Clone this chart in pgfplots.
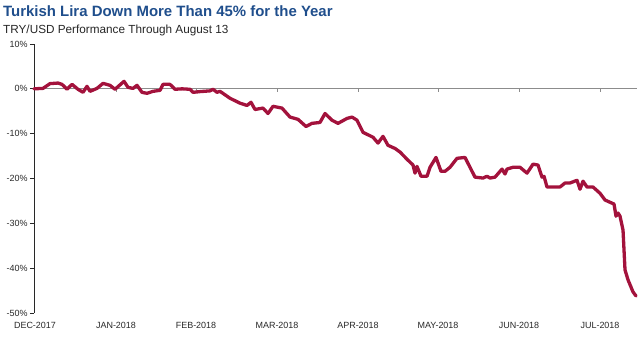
\documentclass[border=0pt]{standalone}
\usepackage{fontspec}
\setmainfont{Liberation Sans}
\usepackage{pgfplots}
\pgfplotsset{compat=1.18}
\definecolor{lira}{RGB}{163,18,60}
\definecolor{ttl}{RGB}{31,78,140}
\definecolor{zeroc}{RGB}{140,140,140}
\definecolor{axc}{RGB}{40,40,40}
\begin{document}
\begin{tikzpicture}[x=1bp,y=1bp]
\useasboundingbox (0,0) rectangle (640,360);
\node[anchor=base west, font=\bfseries\fontsize{15}{16}\selectfont, text=ttl, inner sep=0] at (3,344) {Turkish Lira Down More Than 45\% for the Year};
\node[anchor=base west, font=\fontsize{11.8}{13}\selectfont, text=black!85, inner sep=0] at (3,327) {TRY/USD Performance Through August 13};
\begin{axis}[
  at={(34bp,47bp)}, anchor=south west, scale only axis,
  width=604bp, height=269bp,
  xmin=34, xmax=638, ymin=-50, ymax=10,
  clip=false,
  axis y line*=left, axis x line*=bottom,
  x axis line style={draw=none},
  y axis line style={draw=axc, line width=0.9bp},
  xtick={35,116,196,277,358,438,519,600},
  xticklabels={DEC-2017,JAN-2018,FEB-2018,MAR-2018,APR-2018,MAY-2018,JUN-2018,JUL-2018},
  x tick style={draw=none},
  ytick={-50,-40,-30,-20,-10,0,10},
  yticklabels={-50\%,-40\%,-30\%,-20\%,-10\%,0\%,10\%},
  y tick style={draw=axc, line width=0.9bp},
  tick align=outside, major tick length=4bp,
  ticklabel style={font=\fontsize{9}{10}\selectfont, text=axc},
  xticklabel style={yshift=-2bp},
  yticklabel style={xshift=1bp},
]
\addplot[draw=zeroc, line width=1.3bp] coordinates {(34,0) (637,0)};
\pgfplotsinvokeforeach{116,196,277,358,438,519,600}{
  \draw[zeroc, line width=0.8bp] (axis cs:#1,0) -- ([yshift=-3bp]axis cs:#1,0);
}
\addplot[draw=lira, line width=3.3bp, line join=round, line cap=round] table {
x y
34 0
43 0.1
50 1.16
58 1.29
62 1.0
67 -0.1
72 1.0
78 -0.1
83 -0.78
87 0.56
90 -0.56
97 0.1
103 1.22
110 0.78
115 -0.1
124 1.67
128 0.33
133 0.1
137 0.78
142 -0.78
147 -1.0
153 -0.56
160 -0.33
163 1.0
170 1.0
175 -0.1
182 0
190 -0.1
193 -0.78
200 -0.62
210 -0.45
213 -0.1
217 -0.78
220 -0.56
230 -2.1
240 -3.2
247 -3.7
251 -3.0
255 -4.6
263 -4.3
268 -5.5
273 -3.9
282 -4.3
290 -6.3
298 -6.8
306 -8.4
312 -7.7
320 -7.5
325 -5.5
332 -7.0
338 -7.7
347 -6.6
352 -6.3
357 -7.0
363 -9.7
373 -10.8
378 -12.1
383 -10.6
388 -12.6
395 -13.3
400 -14.1
407 -15.7
413 -17.0
415 -18.8
417 -17.3
421 -19.5
427 -19.5
430 -17.5
436 -15.3
441 -18.4
445 -18.4
450 -17.5
457 -15.5
465 -15.3
475 -19.7
483 -19.9
487 -19.5
490 -19.9
495 -19.7
502 -17.9
505 -19.0
507 -17.9
513 -17.5
520 -17.5
527 -18.8
533 -16.8
538 -17.0
542 -19.7
544 -19.5
547 -21.9
557 -21.9
560 -21.9
565 -21.0
570 -21.0
577 -20.4
580 -22.4
583 -20.6
587 -21.9
593 -21.9
600 -23.3
605 -24.8
612 -25.5
614 -25.7
616 -28.4
618 -27.7
620 -28.4
623 -31.5
625 -40.4
628 -42.6
633 -45.3
636 -46.2
};
\end{axis}
\end{tikzpicture}
\end{document}
